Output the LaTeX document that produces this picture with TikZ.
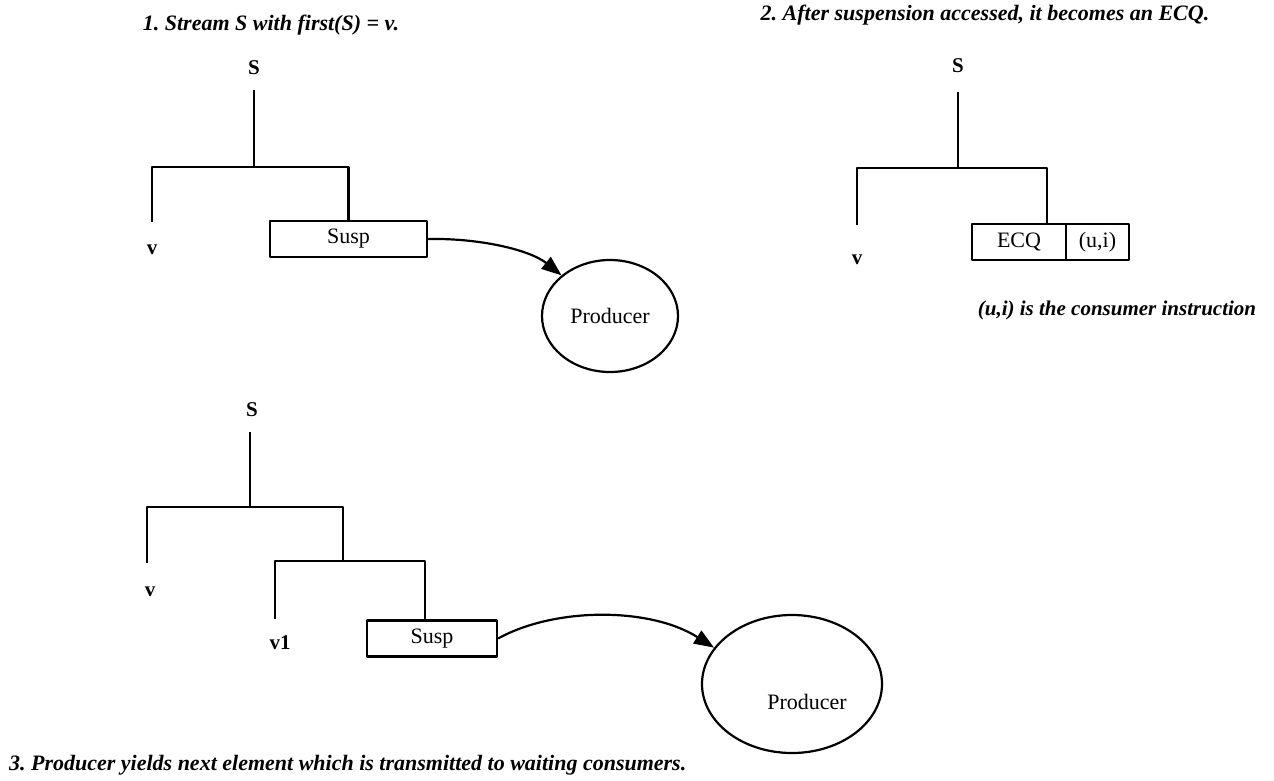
\documentclass[tikz,border=0pt]{standalone}
\usepackage{fontspec}
\setmainfont{Liberation Serif}
\usetikzlibrary{arrows.meta,shapes.geometric}

\begin{document}
\begin{tikzpicture}[x=1pt, y=-1pt, line width=2.2pt, line join=round,
  >={Triangle[length=20pt, width=15pt]},
  note/.style={font=\fontsize{22}{26}\selectfont\bfseries\itshape, inner sep=0pt},
  lbl/.style={font=\fontsize{21}{24}\selectfont\bfseries, inner sep=0pt},
  cell/.style={draw, minimum height=36pt, inner sep=0pt, font=\fontsize{22}{26}\selectfont},
  proc/.style={draw, ellipse, inner sep=0pt, font=\fontsize{22}{26}\selectfont}]
\useasboundingbox (0,0) rectangle (1274,781);

% 1. stream with first element v
\node[note] (t1) at (271,25) {1.\ Stream S with first(S) = v.};
\node[lbl] (s1) at (254,68) {S};
\node[lbl] (v1) at (152,250) {v};
\node[cell, minimum width=157pt] (susp1) at (348.5,239) {Susp};
\node[proc, minimum width=136pt, minimum height=112pt] (prod1) at (610,316) {Producer};
\coordinate (s1b) at (254,90);   % stem below S
\coordinate (j1) at (254,167);   % branch point
\coordinate (l1) at (152,222);   % end of left leg
\draw (s1b) -- (j1);
\draw (l1) |- (j1) -| (susp1.north);
\draw[->] (susp1.east) .. controls (480,238) and (530,250) .. (prod1.140);

% 2. suspension turned into an ECQ
\node[note] (t2) at (985,15) {2.\ After suspension accessed, it becomes an ECQ.};
\node[lbl] (s2) at (958,66) {S};
\node[lbl] (v2) at (857,260) {v};
\node[cell, minimum width=94pt, outer sep=0pt, anchor=west] (ecq) at (972,242) {ECQ\hspace{24pt}};
\node[cell, minimum width=63pt, outer sep=0pt, anchor=west] (ui) at (ecq.east) {(u,i)};
\coordinate (s2b) at (958,92);
\coordinate (j2) at (958,168);
\coordinate (l2) at (857,225);
\coordinate (r2) at (1047,224);  % leg onto the ECQ cell
\draw (s2b) -- (j2);
\draw (l2) |- (j2) -| (r2);
\node[note, font=\fontsize{21}{24}\selectfont\bfseries\itshape] (n2) at (1117,310) {(u,i) is the consumer instruction};

% 3. producer yields the next element
\node[lbl] (s3) at (252,410) {S};
\node[lbl] (v3) at (150,592) {v};
\node[lbl] (v31) at (280,643) {v1};
\node[cell, minimum width=130pt] (susp3) at (432,638.5) {Susp};
\node[proc, minimum width=180pt, minimum height=138pt, text height=52pt] (prod3) at (792,684) {\hspace*{30pt}Producer};
\coordinate (s3b) at (250,432);
\coordinate (j3) at (250,507);
\coordinate (l3) at (147,563);
\coordinate (j4) at (343,561);   % second branch point
\coordinate (l4) at (275,619);
\draw (s3b) -- (j3);
\draw (l3) |- (j3) -| (j4);
\draw (l4) |- (j4) -| ([xshift=-7pt]susp3.north);
\draw[->] (susp3.east) .. controls (555,607) and (650,607) .. (prod3.155);
\node[note, anchor=west] (t3) at (8,765) {3.\ Producer yields next element which is transmitted to waiting consumers.};
\end{tikzpicture}
\end{document}
